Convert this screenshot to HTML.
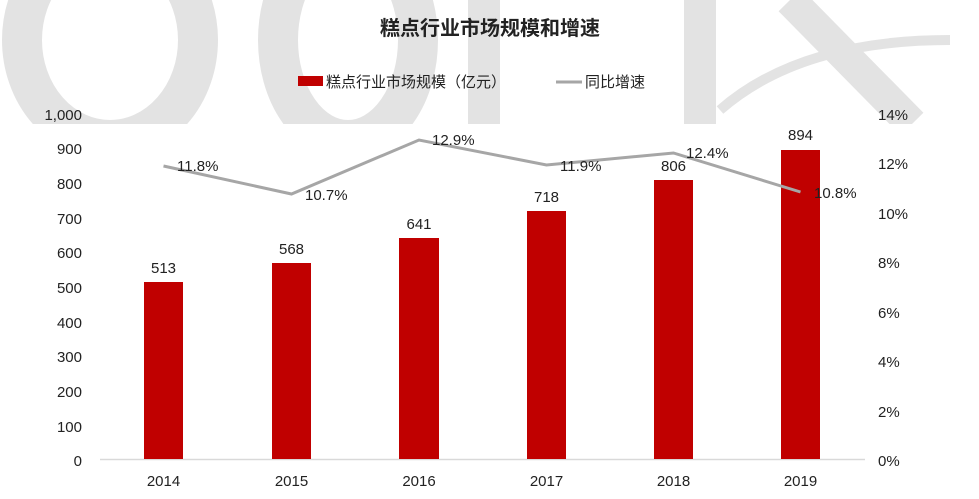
<!DOCTYPE html>
<html><head><meta charset="utf-8"><style>
html,body{margin:0;padding:0;background:#fff;}
svg{display:block;}
text{font-family:"Liberation Sans","Noto Sans CJK SC",sans-serif;fill:#222;}
</style></head><body>
<svg width="979" height="499" viewBox="0 0 979 499" xmlns="http://www.w3.org/2000/svg">
<defs><clipPath id="wm"><rect x="0" y="0" width="979" height="124"/></clipPath></defs>
<g clip-path="url(#wm)" fill="none" stroke="#e3e3e3">
  <ellipse cx="110" cy="40" rx="88" ry="100" stroke-width="40"/>
  <ellipse cx="348" cy="40" rx="70" ry="100" stroke-width="40"/>
  <line x1="484" y1="-10" x2="484" y2="130" stroke-width="32"/>
  <line x1="700" y1="-10" x2="700" y2="130" stroke-width="32"/>
  <path d="M790 0 L912 124" stroke-width="32"/>
  <path d="M720 110 Q800 40 950 40" stroke-width="10"/>
</g>
<text x="490" y="35" font-size="20" font-weight="bold" text-anchor="middle">糕点行业市场规模和增速</text>
<rect x="298" y="76" width="25" height="10" fill="#c00000"/>
<text x="326" y="87" font-size="15">糕点行业市场规模（亿元）</text>
<line x1="556" y1="82" x2="582" y2="82" stroke="#a6a6a6" stroke-width="3"/>
<text x="585" y="87" font-size="15">同比增速</text>
<g font-size="15" text-anchor="end">
<text x="82" y="120">1,000</text><text x="82" y="154">900</text><text x="82" y="189">800</text>
<text x="82" y="224">700</text><text x="82" y="258">600</text><text x="82" y="293">500</text>
<text x="82" y="328">400</text><text x="82" y="362">300</text><text x="82" y="397">200</text>
<text x="82" y="432">100</text><text x="82" y="466">0</text>
</g>
<g font-size="15" text-anchor="start">
<text x="878" y="120">14%</text><text x="878" y="169">12%</text><text x="878" y="219">10%</text>
<text x="878" y="268">8%</text><text x="878" y="318">6%</text><text x="878" y="367">4%</text>
<text x="878" y="417">2%</text><text x="878" y="466">0%</text>
</g>
<line x1="100" y1="459.5" x2="865" y2="459.5" stroke="#d9d9d9" stroke-width="1.5"/>
<g fill="#c00000">
<rect x="144" y="282" width="39" height="177"/>
<rect x="272" y="263" width="39" height="196"/>
<rect x="399" y="238" width="40" height="221"/>
<rect x="527" y="211" width="39" height="248"/>
<rect x="654" y="180" width="39" height="279"/>
<rect x="781" y="150" width="39" height="309"/>
</g>
<g font-size="15" text-anchor="middle">
<text x="163.5" y="273">513</text><text x="291.5" y="254">568</text><text x="419" y="229">641</text>
<text x="546.5" y="202">718</text><text x="673.5" y="171">806</text><text x="800.5" y="140">894</text>
</g>
<polyline points="163.5,166 291.5,194 419,140 546.5,165 673.5,153 800.5,192" fill="none" stroke="#a6a6a6" stroke-width="3"/>
<g font-size="15">
<text x="177" y="171">11.8%</text><text x="305" y="200">10.7%</text><text x="432" y="145">12.9%</text>
<text x="560" y="171">11.9%</text><text x="686" y="158">12.4%</text><text x="814" y="198">10.8%</text>
</g>
<g font-size="15" text-anchor="middle">
<text x="163.5" y="486">2014</text><text x="291.5" y="486">2015</text><text x="419" y="486">2016</text>
<text x="546.5" y="486">2017</text><text x="673.5" y="486">2018</text><text x="800.5" y="486">2019</text>
</g>
</svg>
</body></html>
